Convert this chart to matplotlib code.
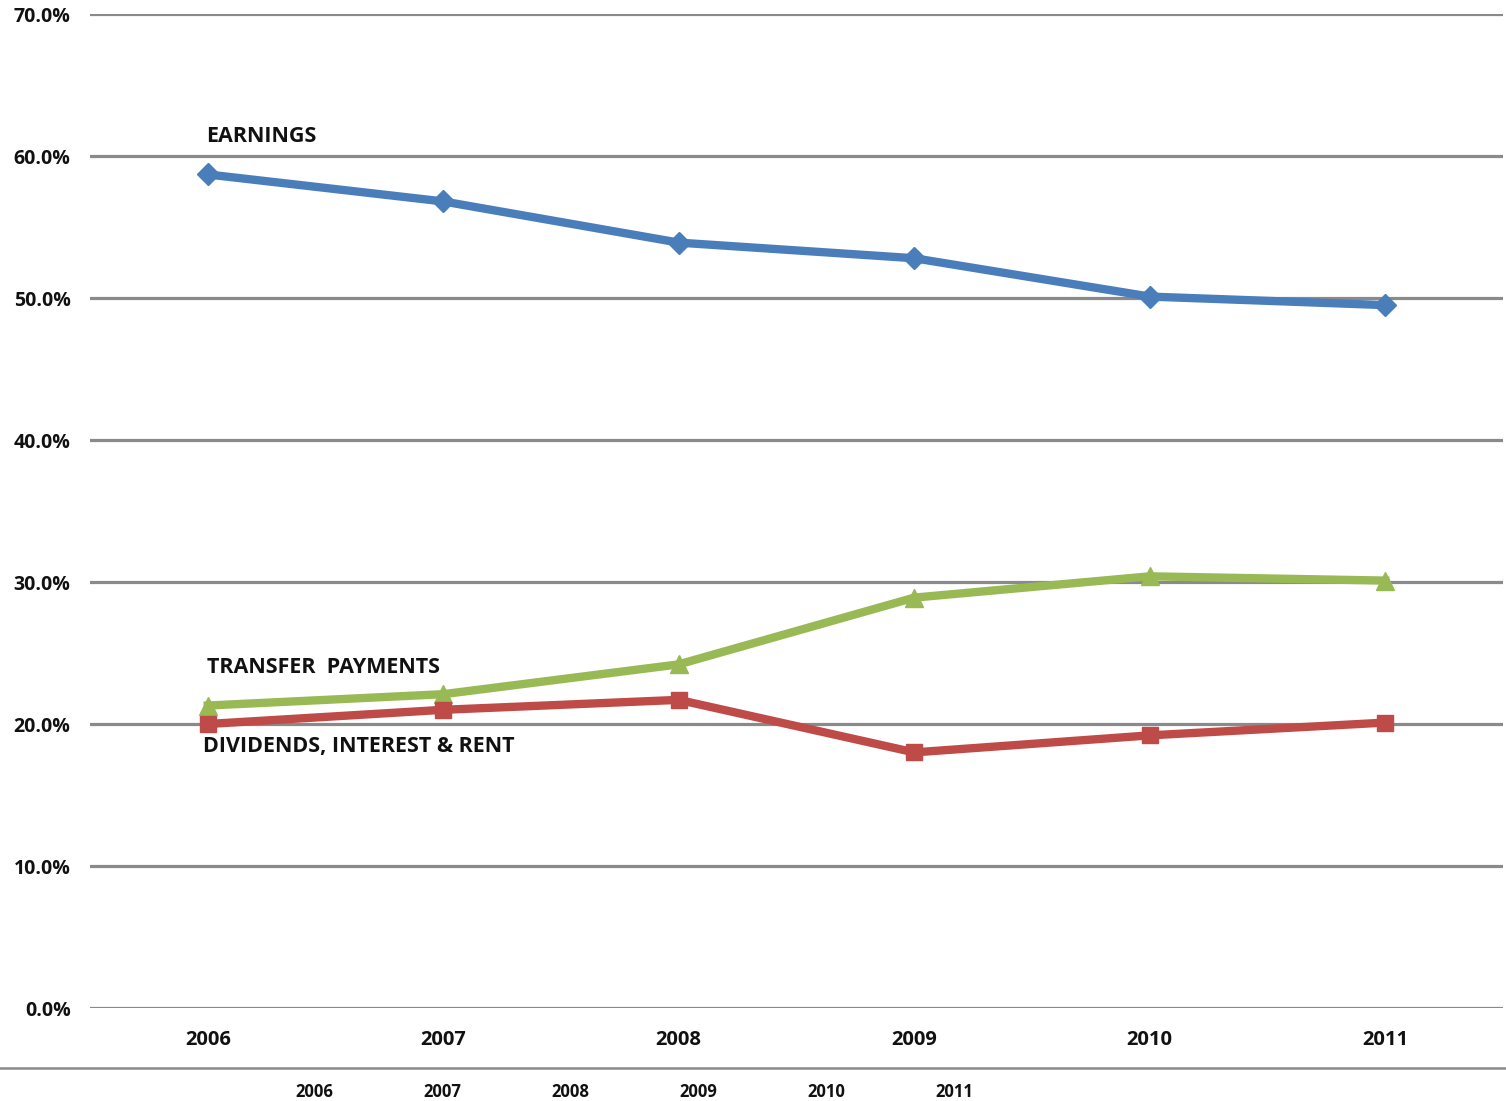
import matplotlib
matplotlib.use("Agg")
import matplotlib.pyplot as plt
from matplotlib.lines import Line2D

years = ["2006", "2007", "2008", "2009", "2010", "2011"]
earnings = [58.7, 56.8, 53.9, 52.8, 50.1, 49.5]
transfer = [21.3, 22.1, 24.2, 28.9, 30.4, 30.1]
dividends = [20.0, 21.0, 21.7, 18.0, 19.2, 20.1]
yticks = [0, 10, 20, 30, 40, 50, 60, 70]
ytick_labels = ["0.0%", "10.0%", "20.0%", "30.0%", "40.0%", "50.0%", "60.0%", "70.0%"]

plt.rcParams['font.family'] = ['Open Sans', 'DejaVu Sans']
plt.rcParams['font.weight'] = 'bold'

W, H = 1506, 1101
fig = plt.figure(figsize=(W / 100, H / 100), dpi=100)
ax = fig.add_axes([90 / W, 1 - 1008 / H, (1503 - 90) / W, (1008 - 14) / H])

x = list(range(len(years)))
ax.plot(x, earnings, color="#4a7ebb", lw=6, marker="D", ms=11, clip_on=False, zorder=3)
ax.plot(x, transfer, color="#98b954", lw=6, marker="^", ms=13, clip_on=False, zorder=3)
ax.plot(x, dividends, color="#be4b48", lw=6, marker="s", ms=12, clip_on=False, zorder=3)

ax.set_xlim(-0.5, len(years) - 0.5)
ax.set_ylim(0, 70)
ax.set_yticks(yticks)
ax.set_yticklabels(ytick_labels, fontsize=14, fontweight='bold', color="#111111")
ax.set_xticks(x)
ax.set_xticklabels(years, fontsize=14.5, fontweight='bold', color="#111111")
ax.tick_params(length=0, axis='y', pad=14)
ax.tick_params(length=0, axis='x', pad=16)
for s in ax.spines.values():
    s.set_visible(False)
ax.grid(axis='y', color="#8a8a8a", lw=2.3, zorder=1)
ax.set_axisbelow(True)

ax.text(-0.005, 61.4, "EARNINGS", fontsize=15.5, fontweight='bold', ha='left', va='center', color="#111111")
ax.text(-0.005, 24.0, "TRANSFER  PAYMENTS", fontsize=15.5, fontweight='bold', ha='left', va='center', color="#111111")
ax.text(-0.02, 18.45, "DIVIDENDS, INTEREST & RENT", fontsize=15.5, fontweight='bold', ha='left', va='center', color="#111111")

# bottom separator line and secondary year row
fig.add_artist(Line2D([0, 1], [1 - 1068 / H, 1 - 1068 / H], color="#8a8a8a", lw=1.8))
for i, yr in enumerate(years):
    fig.text((314 + 128 * i) / W, 1 - 1092 / H, yr, fontsize=12, fontweight='bold',
             ha='center', va='center', color="#111111")

fig.savefig("out.png", dpi=100)
